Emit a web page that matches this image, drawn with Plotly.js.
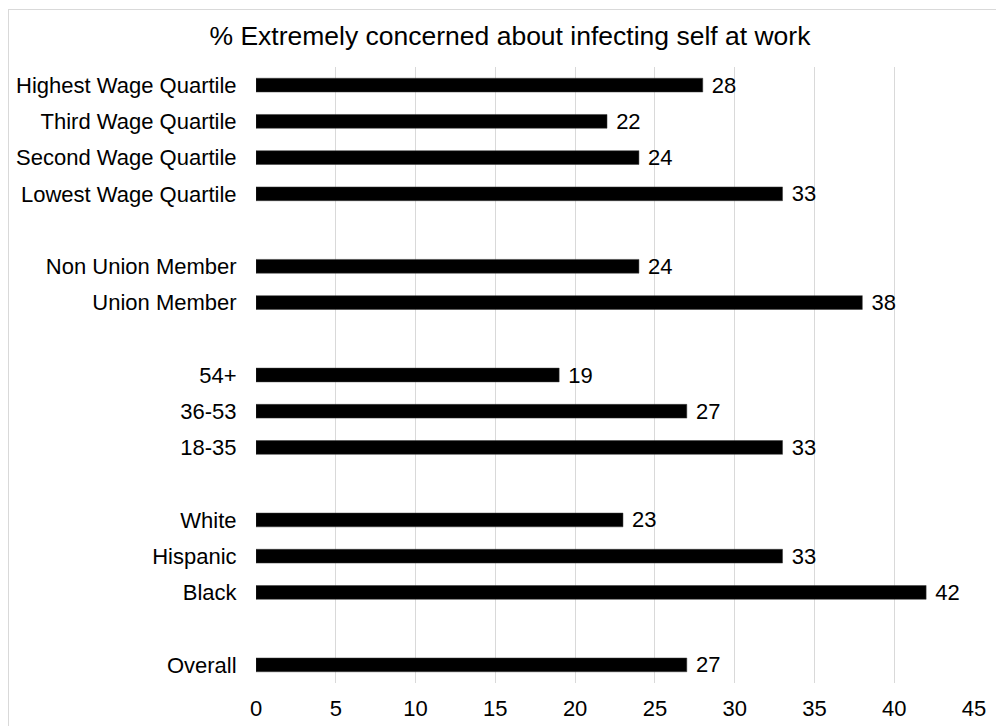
<!DOCTYPE html>
<html>
<head>
<meta charset="utf-8">
<script src="https://cdn.plot.ly/plotly-3.0.1.min.js"></script>
<style>
  html, body { margin: 0; padding: 0; background: #ffffff; overflow: hidden; }
  #frame { position: absolute; left: 8px; top: 9px; width: 1010px; height: 740px;
           border: 1px solid #d9d9d9; box-sizing: border-box; }
  #chart { position: absolute; left: 0; top: 0; width: 996px; height: 726px; }
</style>
</head>
<body>
<div id="frame"></div>
<div id="chart"></div>
<script>
// Survey groups, listed bottom to top as they appear on the chart
const overallLabels = ["Overall"];
const overallValues = [27];

const raceLabels = ["Black", "Hispanic", "White"];
const raceValues = [42, 33, 23];

const ageLabels = ["18-35", "36-53", "54+"];
const ageValues = [33, 27, 19];

const unionLabels = ["Union Member", "Non Union Member"];
const unionValues = [38, 24];

const wageLabels = ["Lowest Wage Quartile", "Second Wage Quartile", "Third Wage Quartile", "Highest Wage Quartile"];
const wageValues = [33, 24, 22, 28];

const xTicks = [0, 5, 10, 15, 20, 25, 30, 35, 40, 45];

// Stack the groups with one empty row between each
const groups = [
  [overallLabels, overallValues],
  [raceLabels, raceValues],
  [ageLabels, ageValues],
  [unionLabels, unionValues],
  [wageLabels, wageValues]
];
const rowPos = [], rowLabels = [], rowValues = [];
let slot = 0;
groups.forEach(([labels, values], gi) => {
  if (gi > 0) slot += 1;
  labels.forEach((lab, i) => {
    rowPos.push(slot);
    rowLabels.push(lab);
    rowValues.push(values[i]);
    slot += 1;
  });
});

const font = "Liberation Sans, Arial, sans-serif";

const trace = {
  type: "bar",
  orientation: "h",
  x: rowValues,
  y: rowPos,
  marker: { color: "#000000", line: { color: "#3a3a3a", width: 0.5 } },
  texttemplate: " %{x}",
  textposition: "outside",
  constraintext: "none",
  textfont: { family: font, size: 22, color: "#000000" },
  cliponaxis: false,
  hoverinfo: "skip"
};

const layout = {
  width: 996,
  height: 726,
  margin: { l: 256, r: 22, t: 67, b: 43 },
  paper_bgcolor: "rgba(0,0,0,0)",
  plot_bgcolor: "rgba(0,0,0,0)",
  showlegend: false,
  bargap: 0.62,
  title: {
    text: "% Extremely concerned about infecting self at work",
    font: { family: font, size: 26.5, color: "#000000" },
    x: 0.512,
    xref: "container",
    xanchor: "center",
    y: 0.951,
    yref: "container",
    yanchor: "middle"
  },
  xaxis: {
    range: [0, 45],
    tickvals: xTicks,
    ticktext: xTicks.map(String),
    showgrid: true,
    gridcolor: "#d9d9d9",
    gridwidth: 1,
    zeroline: false,
    showline: false,
    ticks: "outside",
    ticklen: 6,
    tickcolor: "rgba(0,0,0,0)",
    tickfont: { family: font, size: 22, color: "#000000" },
    fixedrange: true
  },
  yaxis: {
    range: [-0.5, slot - 0.5],
    tickvals: rowPos,
    ticktext: rowLabels,
    showgrid: false,
    zeroline: false,
    showline: false,
    ticks: "outside",
    ticklen: 14,
    tickcolor: "rgba(0,0,0,0)",
    tickfont: { family: font, size: 22, color: "#000000" },
    fixedrange: true
  }
};

Plotly.newPlot("chart", [trace], layout, { staticPlot: true, displayModeBar: false });
</script>
</body>
</html>
